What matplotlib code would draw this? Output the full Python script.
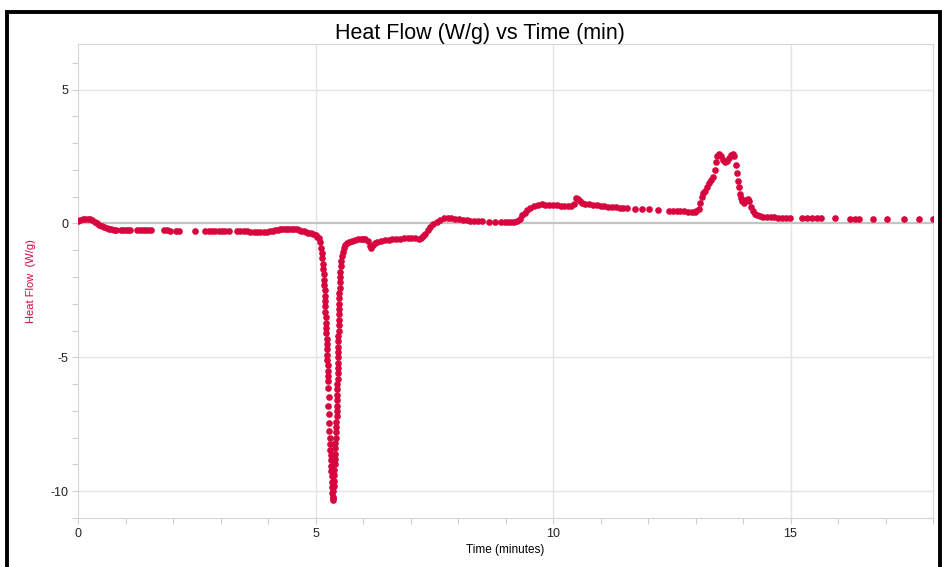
import numpy as np
import matplotlib.pyplot as plt
from matplotlib.patches import Rectangle
from matplotlib.ticker import MultipleLocator

plt.rcParams['axes.unicode_minus'] = False

# DSC run: heat flow vs time, each logged sample drawn as a dot

# warm-up hump and settling
t_start = [0.00, 0.05, 0.10, 0.15, 0.20, 0.25, 0.30, 0.35, 0.40, 0.45, 0.50, 0.55,
           0.60, 0.65, 0.70, 0.75, 0.80]
hf_start = [0.08, 0.12, 0.15, 0.17, 0.17, 0.15, 0.11, 0.06, 0.01, -0.05, -0.10, -0.14,
            -0.18, -0.20, -0.22, -0.23, -0.24]

# flat baseline before the endotherm (logger slows down here)
t_base = [0.90, 0.95, 1.00, 1.05, 1.10,
          1.25, 1.30, 1.36, 1.42, 1.48, 1.54,
          1.80, 1.87, 1.93,
          2.06, 2.13,
          2.47,
          2.68, 2.75, 2.82, 2.89, 2.96, 3.03, 3.10, 3.17,
          3.35, 3.42, 3.49, 3.56, 3.63, 3.70, 3.77, 3.84, 3.91, 3.98, 4.05,
          4.10, 4.15, 4.20, 4.25, 4.30, 4.35, 4.40, 4.45, 4.50, 4.55, 4.60, 4.65,
          4.70, 4.75, 4.80, 4.85, 4.90, 4.95, 5.00, 5.04]
hf_base = [-0.24, -0.24, -0.25, -0.25, -0.25,
           -0.25, -0.25, -0.26, -0.26, -0.26, -0.26,
           -0.26, -0.26, -0.27,
           -0.27, -0.27,
           -0.27,
           -0.27, -0.27, -0.28, -0.28, -0.28, -0.28, -0.29, -0.29,
           -0.29, -0.30, -0.30, -0.30, -0.31, -0.31, -0.31, -0.32, -0.32, -0.31, -0.30,
           -0.28, -0.25, -0.23, -0.21, -0.20, -0.19, -0.19, -0.20, -0.21, -0.22, -0.22, -0.24,
           -0.27, -0.30, -0.32, -0.34, -0.37, -0.40, -0.45, -0.50]

# melting endotherm, falling side
t_down = [5.08, 5.10, 5.12, 5.13, 5.14, 5.15, 5.16, 5.17, 5.18, 5.185, 5.19, 5.195,
          5.20, 5.205, 5.21, 5.215, 5.22, 5.225, 5.23, 5.235, 5.24, 5.243, 5.246, 5.25,
          5.253, 5.256, 5.26, 5.263,
          5.27, 5.275, 5.268, 5.28, 5.285, 5.29, 5.30,
          5.31, 5.315, 5.32, 5.325, 5.33, 5.335, 5.34, 5.345, 5.35, 5.355, 5.36, 5.365]
hf_down = [-0.55, -0.70, -0.90, -1.10, -1.30, -1.50, -1.70, -1.90, -2.10, -2.30, -2.50, -2.70,
           -2.90, -3.10, -3.30, -3.50, -3.70, -3.90, -4.10, -4.30, -4.50, -4.70, -4.90, -5.10,
           -5.30, -5.50, -5.70, -5.90,
           -6.15, -6.50, -6.80, -7.10, -7.45, -7.75, -8.00,
           -8.25, -8.45, -8.65, -8.85, -9.05, -9.25, -9.45, -9.65, -9.85, -10.05, -10.25, -10.33]

# recovery side of the endotherm
t_up = [5.37, 5.375, 5.38, 5.385, 5.39, 5.395, 5.40, 5.405, 5.41, 5.415, 5.42, 5.425,
        5.43, 5.435, 5.44, 5.443, 5.446, 5.45, 5.453, 5.456, 5.46, 5.463, 5.466, 5.47,
        5.472, 5.474, 5.476, 5.478, 5.48, 5.482, 5.484, 5.486, 5.488, 5.49, 5.492, 5.494,
        5.497, 5.50, 5.503, 5.507, 5.512, 5.517, 5.523, 5.53, 5.54, 5.555, 5.57, 5.59,
        5.62, 5.66, 5.71, 5.77, 5.83]
hf_up = [-10.20, -10.00, -9.80, -9.60, -9.40, -9.20, -9.00, -8.80, -8.60, -8.40, -8.20, -8.00,
         -7.80, -7.60, -7.40, -7.20, -7.00, -6.80, -6.60, -6.40, -6.20, -6.00, -5.80, -5.60,
         -5.40, -5.20, -5.00, -4.80, -4.60, -4.40, -4.20, -4.00, -3.80, -3.60, -3.40, -3.20,
         -3.00, -2.80, -2.60, -2.40, -2.20, -2.00, -1.80, -1.60, -1.40, -1.20, -1.05, -0.92,
         -0.82, -0.74, -0.68, -0.64, -0.61]

# small dip, then step back up to baseline
t_mid = [5.90, 5.95, 6.00, 6.05, 6.10, 6.14, 6.17, 6.20, 6.25, 6.30, 6.38, 6.46,
         6.54, 6.62, 6.70, 6.78, 6.86, 6.94, 7.02, 7.10, 7.17, 7.22, 7.26, 7.30,
         7.36, 7.42, 7.48, 7.55, 7.62, 7.70, 7.78, 7.86, 7.94, 8.02, 8.10, 8.18,
         8.26, 8.34, 8.42, 8.50, 8.65, 8.78, 8.90, 8.98, 9.05, 9.12, 9.18, 9.24]
hf_mid = [-0.58, -0.57, -0.57, -0.58, -0.65, -0.85, -0.92, -0.82, -0.74, -0.70, -0.66, -0.63,
          -0.61, -0.60, -0.58, -0.57, -0.56, -0.55, -0.54, -0.56, -0.57, -0.53, -0.47, -0.40,
          -0.26, -0.12, -0.02, 0.07, 0.14, 0.19, 0.21, 0.20, 0.17, 0.15, 0.13, 0.11,
          0.10, 0.09, 0.08, 0.08, 0.07, 0.07, 0.07, 0.06, 0.06, 0.06, 0.06, 0.08]

# second step and the small spike near 10.5 min
t_step = [9.30, 9.35, 9.40, 9.46, 9.52, 9.60, 9.68, 9.76, 9.84, 9.92, 10.00, 10.08,
          10.16, 10.24, 10.32, 10.38, 10.44, 10.48, 10.52, 10.56, 10.62, 10.68, 10.76, 10.84,
          10.92, 11.00, 11.08, 11.16, 11.24, 11.32, 11.40, 11.48, 11.56,
          11.72, 11.87, 12.03, 12.22,
          12.45, 12.52, 12.60, 12.68, 12.76, 12.84, 12.92, 12.98]
hf_step = [0.18, 0.30, 0.40, 0.50, 0.58, 0.65, 0.70, 0.71, 0.70, 0.70, 0.68, 0.67,
           0.66, 0.64, 0.64, 0.65, 0.72, 0.95, 0.90, 0.84, 0.78, 0.74, 0.71, 0.69,
           0.67, 0.66, 0.64, 0.63, 0.61, 0.60, 0.59, 0.57, 0.56,
           0.55, 0.53, 0.52, 0.50,
           0.47, 0.46, 0.46, 0.45, 0.45, 0.44, 0.44, 0.44]

# double-topped exotherm
t_peak = [13.02, 13.07, 13.10, 13.13, 13.16, 13.20, 13.24, 13.28, 13.32, 13.36, 13.40, 13.43,
          13.46, 13.50, 13.54, 13.58, 13.62, 13.66, 13.70, 13.74, 13.78, 13.82, 13.85, 13.87,
          13.89, 13.91, 13.93, 13.95, 13.98, 14.02, 14.06, 14.10, 14.13, 14.16, 14.20, 14.25,
          14.30, 14.36, 14.42, 14.50, 14.58, 14.66, 14.74, 14.82, 14.90, 14.98]
hf_peak = [0.46, 0.55, 0.75, 0.98, 1.12, 1.20, 1.35, 1.50, 1.62, 1.75, 2.00, 2.30,
           2.52, 2.58, 2.50, 2.38, 2.30, 2.32, 2.45, 2.57, 2.60, 2.50, 2.20, 1.90,
           1.60, 1.35, 1.10, 0.95, 0.82, 0.78, 0.86, 0.92, 0.82, 0.60, 0.45, 0.36,
           0.30, 0.27, 0.25, 0.24, 0.23, 0.23, 0.22, 0.22, 0.22, 0.22]

# sparse tail
t_tail = [15.25, 15.35, 15.45, 15.55, 15.65, 15.93, 16.25, 16.35, 16.45, 16.73, 17.03, 17.38,
          17.70, 18.00]
hf_tail = [0.20, 0.20, 0.20, 0.19, 0.19, 0.19, 0.18, 0.18, 0.18, 0.17, 0.17, 0.16,
           0.16, 0.15]

time_min = np.concatenate([t_start, t_base, t_down, t_up, t_mid, t_step, t_peak, t_tail])
heat_flow = np.concatenate([hf_start, hf_base, hf_down, hf_up, hf_mid, hf_step, hf_peak, hf_tail])

red = '#d8063e'
light = '#e4e4e4'
font = ['Liberation Sans', 'DejaVu Sans']

fig = plt.figure(figsize=(9.42, 5.67), dpi=100)
ax = fig.add_axes([78 / 942, 1 - 518 / 567, (933 - 78) / 942, (518 - 44) / 567])

ax.set_xlim(0, 18)
ax.set_ylim(-11, 6.7)

# grid: light lines, darker zero line
for x in [5, 10, 15]:
    ax.axvline(x, color=light, lw=1.0, zorder=0)
for y in [5, -5, -10]:
    ax.axhline(y, color=light, lw=1.0, zorder=0)
ax.axhline(0, color='#c4c4c4', lw=1.6, zorder=0)

ax.scatter(time_min, heat_flow, s=23, color=red, linewidths=0, zorder=3)

ax.xaxis.set_major_locator(MultipleLocator(5))
ax.xaxis.set_minor_locator(MultipleLocator(1))
ax.yaxis.set_major_locator(MultipleLocator(5))
ax.yaxis.set_minor_locator(MultipleLocator(1))
ax.tick_params(which='both', direction='out', color='#cfcfcf', length=4, width=0.8,
               labelsize=9, labelcolor='#222222', pad=3)
for lab in ax.get_xticklabels() + ax.get_yticklabels():
    lab.set_family(font)

for side in ax.spines.values():
    side.set_color('#d6d6d6')
    side.set_linewidth(0.8)

fig.text(480 / 942, 1 - 33 / 567, 'Heat Flow (W/g) vs Time (min)', family=font, fontsize=15.5,
         ha='center', va='center')
ax.set_xlabel('Time (minutes)', family=font, fontsize=8.5, labelpad=3)
ax.set_ylabel('Heat Flow  (W/g)', family=font, fontsize=8, color=red)
ax.yaxis.set_label_coords((36 - 78) / 855, 0.5)

# black frame round the figure
fig.patches.append(Rectangle((7 / 942, -0.05), 933 / 942, 1.0288, transform=fig.transFigure,
                             fill=False, edgecolor='black', linewidth=2.8, clip_on=False))

fig.savefig('out.png', dpi=100)
